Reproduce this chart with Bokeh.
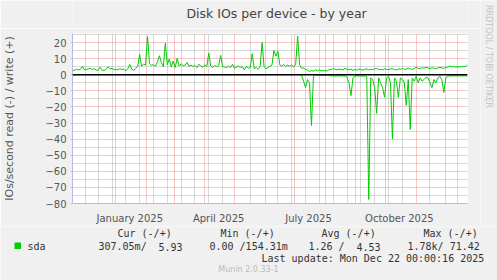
from datetime import date, timedelta
from bokeh.plotting import figure
from bokeh.layouts import column, row
from bokeh.models import Range1d, FixedTicker, SingleIntervalTicker, Span, Grid
from bokeh.core.properties import value
from bokeh.embed import file_html
from bokeh.resources import INLINE

# ---------------- data ----------------
START = date(2024, 11, 18)          # left edge of the 400-day window
DAYS = 400
STEP = 2                            # one sample every 2 days

write_ios = [
    2.5, 2.8, 3.4, 3.0, 3.3, 5.2, 3.0, 3.2, 3.6, 4.0,
    3.4, 3.7, 3.0, 2.7, 4.6, 2.8, 2.6, 3.3, 5.0, 3.6,
    3.9, 3.1, 3.4, 3.0, 3.8, 3.2, 3.5, 2.4, 3.6, 6.4,
    3.4, 2.7, 4.0, 5.0, 12.5, 5.2, 6.5, 6.0, 23.7, 7.0,
    5.8, 6.3, 5.2, 8.0, 11.8, 7.5, 5.0, 19.7, 6.2, 9.8,
    4.8, 8.5, 4.5, 10.2, 5.3, 6.8, 5.5, 6.0, 7.6, 5.2,
    6.0, 5.0, 5.8, 4.4, 6.5, 5.4, 4.6, 6.2, 5.0, 13.5,
    5.2, 4.5, 5.8, 5.0, 5.5, 12.0, 5.0, 4.8, 4.2, 5.6,
    4.3, 6.5, 4.0, 4.8, 5.3, 4.4, 5.0, 3.0, 5.2, 4.0,
    4.6, 13.0, 3.8, 4.5, 3.3, 5.0, 20.0, 5.0, 3.6, 4.5,
    5.2, 6.0, 15.0, 11.5, 14.5, 6.0, 5.2, 6.4, 5.0, 6.0,
    5.2, 6.0, 4.8, 6.5, 24.0, 6.0, 4.0, 4.2, 3.2, 3.0,
    2.0, 2.6, 2.2, 3.0, 2.5, 3.0, 2.4, 2.8, 2.3, 2.5,
    3.2, 3.0, 3.8, 3.4, 3.0, 3.6, 3.2, 3.0, 4.0, 3.4,
    3.0, 3.6, 2.6, 3.4, 2.8, 3.6, 3.2, 2.8, 3.4, 3.6,
    3.0, 3.4, 3.2, 3.6, 3.8, 3.2, 3.4, 3.0, 3.6, 3.4,
    3.2, 3.6, 3.8, 3.2, 3.0, 3.6, 3.4, 3.8, 3.4, 3.6,
    4.0, 3.6, 3.4, 3.8, 4.6, 4.0, 3.8, 4.4, 4.0, 4.6,
    4.2, 3.8, 4.4, 4.0, 3.8, 4.2, 4.6, 4.2, 4.0, 4.4,
    4.8, 5.4, 5.0, 5.2, 4.6, 5.0, 4.8, 5.0, 5.2, 5.0,
    6.2,
]

read_ios = [0.0] * 116 + [
    0.5, 4.0, 8.0, 3.0, 5.0, 31.5, 1.0, 0.3, 0.3, 0.4,
    0.3, 0.3, 0.4, 0.3, 0.5, 0.7, 0.7, 0.8, 0.7, 0.7,
    0.9, 0.7, 0.8, 1.5, 5.0, 13.0, 2.0, 0.8, 0.7, 0.8,
    0.7, 0.9, 0.7, 1.2, 77.5, 2.0, 3.0, 8.0, 24.0, 2.0,
    5.0, 8.0, 14.0, 2.0, 1.0, 5.0, 40.0, 2.0, 4.0, 14.0,
    2.0, 3.0, 5.0, 19.0, 3.0, 34.0, 2.0, 4.0, 1.0, 5.0,
    2.0, 4.0, 3.0, 1.5, 2.0, 5.0, 8.0, 3.0, 5.0, 2.0,
    1.0, 3.0, 11.0, 2.0, 1.0, 0.7, 0.7, 0.7, 0.7, 0.7,
    0.7, 0.7, 0.7, 0.7, 0.7,
]

sample_dates = [START + timedelta(days=STEP * i) for i in range(len(write_ios))]

month_starts = [date(2024, 12, 1)] + [date(2025, m, 1) for m in range(1, 13)]
label_dates = [date(2025, 1, 15), date(2025, 4, 15), date(2025, 7, 15), date(2025, 10, 15)]
label_texts = ["January 2025", "April 2025", "July 2025", "October 2025"]
minor_first = date(2024, 12, 14)    # first minor (grey) vertical grid line, every 14 days
y_minor = [-75, -65, -55, -45, -35, -25, -15, -5, 5, 15, 25]

title_text = "Disk IOs per device - by year"
side_text = "RRDTOOL / TOBI OETIKER"
y_label = "IOs/second read (-) / write (+)"
legend_head = ["Cur (-/+)", "Min (-/+)", "Avg (-/+)", "Max (-/+)"]
device = "sda"
legend_vals = ["307.05m/", "5.93", "0.00 /154.31m", "1.26 /", "4.53", "1.78k/ 71.42"]
last_update = "Last update: Mon Dec 22 00:00:16 2025"
version_text = "Munin 2.0.33-1"

# ---------------- style / layout ----------------
W, H = 497, 280
FL, FR, FT, FB = 67, 467, 33, 208      # plot-area edges in page px
TOP_H = 28                             # title strip height
SIDE_W = 17                            # right strip width
MAIN_H = 226                           # title strip + main figure height
YMIN, YMAX = -80, 25.6
BG = "#F0F0F0"
GREEN = "#00CC00"
AXIS = "#B8B8E6"
RED = "#EE8C8C"
GREY = "#B0B0B0"
TXT = "#555555"
LEG = "#333333"


def off(d):
    return (d - START).days


def strip(w, h, x0, y0):
    """An empty figure whose data space equals page pixels (y downwards)."""
    f = figure(width=w, height=h, output_backend="svg", toolbar_location=None,
               x_range=Range1d(x0, x0 + w), y_range=Range1d(y0 + h, y0),
               x_axis_location=None, y_axis_location=None,
               min_border=0, background_fill_color=BG, border_fill_color=BG,
               outline_line_color=None)
    f.title.visible = False
    f.grid.visible = False
    return f


xs = [off(d) for d in sample_dates]

# main chart
p = figure(width=W - SIDE_W, height=MAIN_H - TOP_H, output_backend="svg",
           toolbar_location=None,
           x_range=Range1d(0, DAYS), y_range=Range1d(YMIN, YMAX),
           min_border_left=FL, min_border_right=W - SIDE_W - FR,
           min_border_top=FT - TOP_H, min_border_bottom=MAIN_H - FB,
           background_fill_color="white", border_fill_color=BG,
           outline_line_color=None)
p.title.visible = False

# red major grids (the figure's own grids) -- configured before extra grids exist
p.xgrid.ticker = FixedTicker(ticks=[off(m) for m in month_starts])
p.xgrid.grid_line_color = RED
p.xgrid.grid_line_dash = "1 1"
p.yaxis.ticker = SingleIntervalTicker(interval=10)
p.ygrid.grid_line_color = RED
p.ygrid.grid_line_dash = "1 1"

# grey minor grids
minor_days = []
d = minor_first
while off(d) < DAYS:
    if min(abs(off(d) - off(m)) for m in month_starts) > 2:
        minor_days.append(off(d))
    d += timedelta(days=14)

p.add_layout(Grid(dimension=0, ticker=FixedTicker(ticks=minor_days),
                  grid_line_color=GREY, grid_line_dash="1 1"))
p.add_layout(Grid(dimension=1, ticker=FixedTicker(ticks=y_minor),
                  grid_line_color=GREY, grid_line_dash="1 1"))

p.xaxis.ticker = FixedTicker(ticks=[off(d) for d in label_dates])
p.xaxis.major_label_overrides = {off(d): t for d, t in zip(label_dates, label_texts)}
p.xaxis.major_tick_line_color = None
p.xaxis.minor_tick_line_color = None
p.xaxis.axis_line_color = AXIS
p.xaxis.major_label_standoff = 3
p.yaxis.axis_line_color = AXIS
p.yaxis.major_tick_out = 2
p.yaxis.major_tick_in = 0
p.yaxis.major_tick_line_color = "#C8C8C8"
p.yaxis.minor_tick_line_color = None
p.yaxis.major_label_standoff = 2
p.yaxis.axis_label = y_label
p.yaxis.axis_label_standoff = 26
p.yaxis.axis_label_text_font = "DejaVu Sans"
p.yaxis.axis_label_text_font_size = "11px"
p.yaxis.axis_label_text_font_style = "normal"
p.yaxis.axis_label_text_color = TXT
for ax in (p.xaxis, p.yaxis):
    ax.major_label_text_font = "DejaVu Sans"
    ax.major_label_text_font_size = "10px"
    ax.major_label_text_color = TXT

p.line(xs, write_ios, line_color=GREEN, line_width=1)
p.line(xs, [-v for v in read_ios], line_color=GREEN, line_width=1)
p.add_layout(Span(location=0, dimension="width", line_color="black", line_width=1.5))

# title strip
t = strip(W - SIDE_W, TOP_H, 0, 0)
t.text(x=[248], y=[13], text=[title_text], text_font=value("DejaVu Sans"),
       text_font_size="12.5px", text_color="#444444", text_align="center",
       text_baseline="middle")

# right strip with vertical credit
s = strip(SIDE_W, MAIN_H, W - SIDE_W, 0)
s.text(x=[488], y=[56], text=[side_text], text_font=value("DejaVu Sans"),
       text_font_size="8px", text_color="#C0C0C0", text_align="center",
       text_baseline="middle", angle=-1.5708)

# legend strip
g = strip(W, H - MAIN_H, 0, MAIN_H)
mono = value("DejaVu Sans Mono")
g.text(x=[117, 220, 321, 423], y=[233] * 4, text=legend_head, text_font=mono,
       text_font_size="10px", text_color=LEG, text_baseline="middle")
g.text(x=[27, 98, 158, 209, 308, 356, 407], y=[246] * 7,
       text=[device] + legend_vals, text_font=mono,
       text_font_size="10px", text_color=LEG, text_baseline="middle")
g.text(x=[261], y=[258], text=[last_update], text_font=mono,
       text_font_size="10px", text_color=LEG, text_baseline="middle")
g.text(x=[248], y=[269], text=[version_text], text_font=value("DejaVu Sans"),
       text_font_size="8px", text_color="#BBBBBB", text_align="center",
       text_baseline="middle")
g.quad(left=[14], right=[20.5], top=[242], bottom=[248.5], fill_color=GREEN,
       line_color=None)

layout = column(row(column(t, p, spacing=0), s, spacing=0), g, spacing=0)

open("out.html", "w").write(file_html(layout, INLINE))
